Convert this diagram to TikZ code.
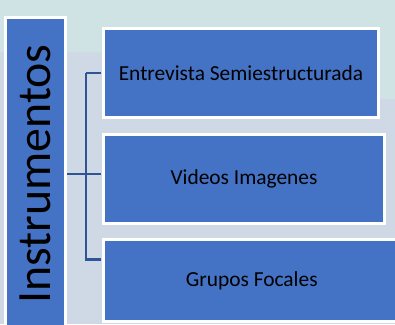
\documentclass[tikz,border=0pt]{standalone}
\usepackage{fontspec}
\setmainfont{Carlito}
\definecolor{bgtop}{HTML}{CFE3E4}
\definecolor{bglow}{HTML}{CED9E5}
\definecolor{boxblue}{HTML}{4472C4}
\definecolor{linkblue}{HTML}{2F5597}
\tikzset{
  mainbox/.style={draw=white, line width=3pt, fill=boxblue, inner sep=0pt, rotate=90,
    minimum width=313.5pt, minimum height=60pt,
    font=\fontsize{47.8}{50}\selectfont, text=black},
  itembox/.style={draw=white, line width=3pt, fill=boxblue, inner sep=0pt,
    font=\fontsize{21.4}{25}\selectfont, text=black},
  conn/.style={draw=linkblue, line width=2.5pt}
}
\begin{document}
\begin{tikzpicture}[x=1pt, y=-1pt]
\useasboundingbox (0,0) rectangle (395,324);
\fill[bglow] (0,0) rectangle (395,324);
\fill[bgtop] (0,0) -- (395,0) -- (395,99) -- (379,99) -- (379,52) -- (0,52) -- cycle;
\node[mainbox] (main) at (35.5,174) {Instrumentos};
\node[itembox, minimum width=275pt, minimum height=89pt] (box1) at (241,73) {Entrevista Semiestructurada};
\node[itembox, minimum width=281pt, minimum height=89pt] (box2) at (244,179) {Videos Imagenes};
\node[itembox, minimum width=296.5pt, minimum height=82pt] (box3) at (251.75,280.5) {Grupos Focales};
\coordinate (trunk) at (86,0);
\coordinate (b3in) at ([yshift=21pt]box3.west);
\draw[conn, shorten >=1.5pt] (main.south) -- (box2.west |- main.south);
\draw[conn, shorten >=1.5pt] (box1.west -| trunk) -- (box1.west);
\draw[conn, shorten >=1.5pt] (box1.west -| trunk) -- (b3in -| trunk) -- (b3in);
\end{tikzpicture}
\end{document}
